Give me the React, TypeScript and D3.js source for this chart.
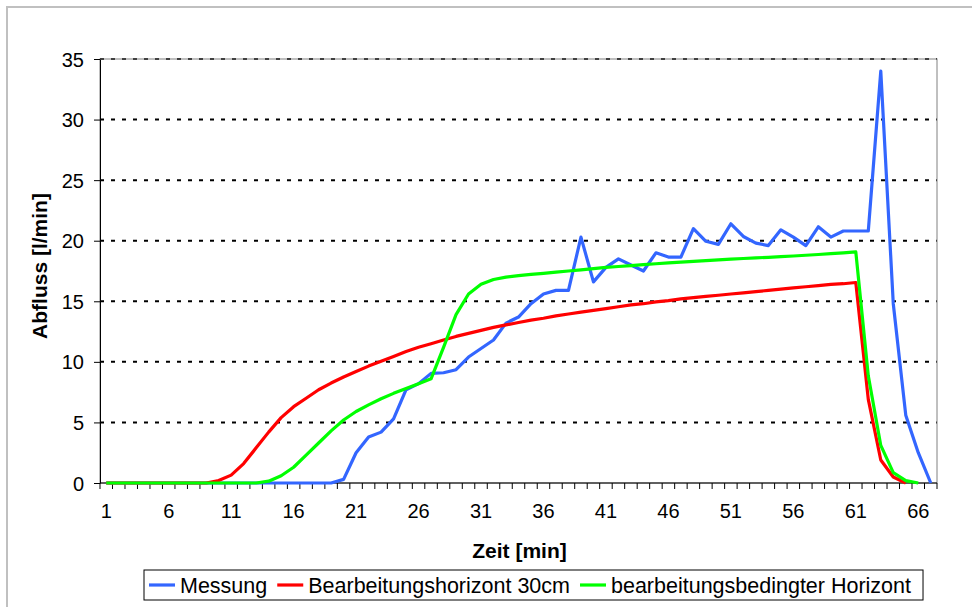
import React, { useEffect, useRef } from "react";
import * as d3 from "d3";

// Zeit in Minuten (Kategorien 1..67)
const categories = d3.range(1, 68);
const xTickLabels = [1, 6, 11, 16, 21, 26, 31, 36, 41, 46, 51, 56, 61, 66];
const yTicks = [0, 5, 10, 15, 20, 25, 30, 35];

const messung = [
  0, 0, 0, 0, 0, 0, 0, 0, 0, 0, 0, 0, 0, 0, 0, 0, 0, 0, 0,
  0.3, 2.5, 3.8, 4.2, 5.3, 7.7, 8.2, 9.05, 9.1, 9.35, 10.4,
  11.1, 11.8, 13.2, 13.7, 14.8, 15.6, 15.9, 15.9, 20.3, 16.6,
  17.8, 18.5, 18.0, 17.5, 19.0, 18.65, 18.65, 21.0, 19.95, 19.7,
  21.4, 20.35, 19.8, 19.6, 20.9, 20.3, 19.6, 21.15, 20.3, 20.8,
  20.8, 20.8, 34.0, 14.8, 5.6, 2.5, 0,
];

const bearbeitungshorizont = [
  0, 0, 0, 0, 0, 0, 0, 0, 0,
  0.2, 0.65, 1.6, 2.9, 4.2, 5.4, 6.3, 7.0, 7.7, 8.25, 8.75,
  9.2, 9.65, 10.05, 10.45, 10.85, 11.2, 11.5, 11.8, 12.1, 12.35,
  12.6, 12.85, 13.05, 13.25, 13.45, 13.6, 13.8, 13.95, 14.1, 14.25,
  14.4, 14.55, 14.7, 14.8, 14.95, 15.05, 15.2, 15.3, 15.4, 15.5,
  15.6, 15.7, 15.8, 15.9, 16.0, 16.1, 16.2, 16.3, 16.4, 16.45,
  16.55, 6.9, 1.9, 0.5, 0,
];

const bedingterHorizont = [
  0, 0, 0, 0, 0, 0, 0, 0, 0, 0, 0, 0, 0,
  0.15, 0.6, 1.3, 2.3, 3.3, 4.3, 5.2, 5.9, 6.45, 6.95, 7.4,
  7.8, 8.2, 8.6, 11.2, 13.9, 15.6, 16.4, 16.8, 17.0, 17.12,
  17.22, 17.3, 17.4, 17.5, 17.6, 17.7, 17.8, 17.87, 17.95, 18.02,
  18.1, 18.17, 18.23, 18.3, 18.36, 18.42, 18.48, 18.53, 18.58, 18.63,
  18.68, 18.74, 18.8, 18.86, 18.93, 19.0, 19.08, 8.85, 3.1, 0.85,
  0.2, 0,
];

const seriesNames = ["Messung", "Bearbeitungshorizont 30cm", "bearbeitungsbedingter Horizont"];
const seriesColors = ["#3366ff", "#ff0000", "#00ff00"];
const seriesValues = [messung, bearbeitungshorizont, bedingterHorizont];

const FONT = "'Liberation Sans', Arial, sans-serif";

const App: React.FC = () => {
  const svgRef = useRef<SVGSVGElement>(null);

  useEffect(() => {
    if (!svgRef.current) return;
    const svg = d3.select(svgRef.current);
    svg.selectAll("*").remove();

    const W = 972;
    const H = 607;
    const left = 100, right = 937, top = 59, bottom = 483;

    // chart area border
    svg.append("rect")
      .attr("x", 7).attr("y", 7)
      .attr("width", W + 10).attr("height", H + 10)
      .attr("fill", "#fff")
      .attr("stroke", "#c0c0c0")
      .attr("stroke-width", 2);

    const x = d3.scaleBand<number>().domain(categories).range([left, right]).padding(0);
    const y = d3.scaleLinear().domain([0, 35]).range([bottom, top]);
    const bw = x.bandwidth();

    // grid
    svg.append("g")
      .selectAll("line")
      .data(yTicks.filter(t => t > 0))
      .enter()
      .append("line")
      .attr("x1", left).attr("x2", right)
      .attr("y1", d => y(d)).attr("y2", d => y(d))
      .attr("stroke", "#000")
      .attr("stroke-width", 2)
      .attr("stroke-dasharray", "4,7");

    // plot area border
    svg.append("rect")
      .attr("x", left).attr("y", top)
      .attr("width", right - left).attr("height", bottom - top)
      .attr("fill", "none")
      .attr("stroke", "#808080")
      .attr("stroke-width", 1);

    // y axis
    const yAxis = svg.append("g")
      .attr("transform", `translate(${left},0)`)
      .call(d3.axisLeft(y).tickValues(yTicks).tickSize(6).tickSizeOuter(0).tickPadding(10));
    yAxis.attr("font-family", FONT).attr("font-size", 20);
    yAxis.select(".domain").attr("stroke", "#000");
    yAxis.selectAll(".tick line").attr("stroke", "#000");
    yAxis.selectAll(".tick text").attr("fill", "#000").attr("dy", "0.35em");

    // x axis line + category boundary ticks
    svg.append("line")
      .attr("x1", left).attr("x2", right)
      .attr("y1", bottom).attr("y2", bottom)
      .attr("stroke", "#000").attr("stroke-width", 1.2);
    const bounds = [...categories.map(c => x(c) as number), right];
    svg.append("g")
      .selectAll("line")
      .data(bounds)
      .enter()
      .append("line")
      .attr("x1", d => d).attr("x2", d => d)
      .attr("y1", bottom).attr("y2", bottom + 6)
      .attr("stroke", "#000").attr("stroke-width", 1);

    svg.append("g")
      .selectAll("text")
      .data(xTickLabels)
      .enter()
      .append("text")
      .attr("x", d => (x(d) as number) + bw / 2)
      .attr("y", 518)
      .attr("text-anchor", "middle")
      .attr("font-family", FONT)
      .attr("font-size", 20)
      .text(d => String(d));

    // series
    const line = d3.line<number>()
      .x((_, i) => (x(categories[i]) as number) + bw / 2)
      .y(d => y(d));

    seriesValues.forEach((vals, k) => {
      svg.append("path")
        .datum(vals)
        .attr("d", line)
        .attr("fill", "none")
        .attr("stroke", seriesColors[k])
        .attr("stroke-width", 3.2)
        .attr("stroke-linejoin", "round");
    });

    // axis titles
    svg.append("text")
      .attr("x", (left + right) / 2 + 1)
      .attr("y", 558)
      .attr("text-anchor", "middle")
      .attr("font-family", FONT)
      .attr("font-size", 21)
      .attr("font-weight", "bold")
      .text("Zeit [min]");

    svg.append("text")
      .attr("transform", `translate(47,${(top + bottom) / 2 - 5}) rotate(-90)`)
      .attr("text-anchor", "middle")
      .attr("font-family", FONT)
      .attr("font-size", 21)
      .attr("font-weight", "bold")
      .text("Abfluss [l/min]");

    // legend
    const legend = svg.append("g");
    const box = legend.append("rect")
      .attr("x", 144).attr("y", 570)
      .attr("height", 30)
      .attr("fill", "#fff")
      .attr("stroke", "#000")
      .attr("stroke-width", 1);
    let cx = 149;
    seriesNames.forEach((name, k) => {
      legend.append("line")
        .attr("x1", cx).attr("x2", cx + 26)
        .attr("y1", 585).attr("y2", 585)
        .attr("stroke", seriesColors[k])
        .attr("stroke-width", 3.2);
      const t = legend.append("text")
        .attr("x", cx + 31)
        .attr("y", 592.5)
        .attr("font-family", FONT)
        .attr("font-size", 21.5)
        .text(name);
      const w = (t.node() as SVGTextElement).getComputedTextLength();
      cx = cx + 31 + w + 10;
    });
    box.attr("width", cx - 144 + 2);
  }, []);

  return (
    <svg
      ref={svgRef}
      width={972}
      height={607}
      style={{ position: "absolute", left: 0, top: 0, background: "#fff" }}
    />
  );
};

export default App;
